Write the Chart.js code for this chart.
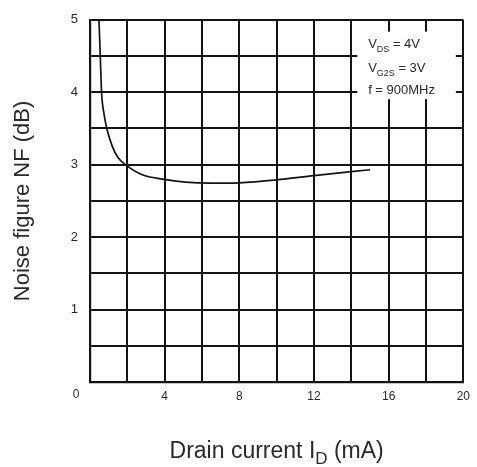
<!DOCTYPE html>
<html><head><meta charset="utf-8">
<script src="https://cdn.jsdelivr.net/npm/chart.js@4"></script>
<style>html,body{margin:0;padding:0;background:#fff}#wrap{width:477px;height:467px}</style>
</head><body><div id="wrap"><canvas id="c" width="477" height="467"></canvas></div>
<script>
// Data
const drainCurrentMA = [0.48, 0.55, 0.62, 0.75, 0.9, 1.2, 1.5, 1.9, 2.8, 3.9, 5.1, 6.5, 8.0, 10.0, 12.0, 15.0];
const noiseFigureDB  = [5.0, 4.5, 4.0, 3.7, 3.5, 3.25, 3.1, 3.0, 2.86, 2.8, 2.76, 2.745, 2.75, 2.79, 2.85, 2.93];
const xTickLabels = [4, 8, 12, 16, 20];
const yTickLabels = [1, 2, 3, 4, 5];
const cornerLabel = '0';
const conditionLines = [['V', 'DS', ' = 4V'], ['V', 'G2S', ' = 3V'], ['f = 900MHz', '', '']];
const xTitleParts = ['Drain current I', 'D', ' (mA)'];
const yTitleText = 'Noise figure NF (dB)';

const INK = '#141414';
const TEXT = '#2a2a2a';
const FONT = '"Liberation Sans", Arial, sans-serif';

function drawSubText(ctx, parts, x, y, size, align) {
  const subSize = Math.round(size * 0.72);
  ctx.font = size + 'px ' + FONT;
  const w0 = ctx.measureText(parts[0]).width;
  const w2 = ctx.measureText(parts[2]).width;
  ctx.font = subSize + 'px ' + FONT;
  const w1 = ctx.measureText(parts[1]).width;
  let sx = align === 'center' ? x - (w0 + w1 + w2) / 2 : x;
  ctx.textAlign = 'left';
  ctx.textBaseline = 'alphabetic';
  ctx.font = size + 'px ' + FONT;
  ctx.fillText(parts[0], sx, y);
  ctx.font = subSize + 'px ' + FONT;
  ctx.fillText(parts[1], sx + w0, y + size * 0.28);
  ctx.font = size + 'px ' + FONT;
  ctx.fillText(parts[2], sx + w0 + w1, y);
}

const decorPlugin = {
  id: 'decor',
  beforeDatasetsDraw(chart) {
    const {ctx, scales: {x, y}} = chart;
    // white box behind the operating-condition note
    const l = x.getPixelForValue(14.32), r = x.getPixelForValue(19.6);
    const t = y.getPixelForValue(4.836), b = y.getPixelForValue(3.904);
    ctx.save();
    ctx.fillStyle = '#fff';
    ctx.fillRect(l, t, r - l, b - t);
    ctx.fillStyle = TEXT;
    const tx = x.getPixelForValue(14.9);
    const rows = [4.68, 4.35, 4.05];
    conditionLines.forEach((parts, i) => {
      drawSubText(ctx, parts, tx, y.getPixelForValue(rows[i]) + 5, 13, 'left');
    });
    ctx.restore();
  },
  afterDraw(chart) {
    const {ctx, chartArea} = chart;
    ctx.save();
    ctx.fillStyle = TEXT;
    // corner zero
    ctx.font = '12px ' + FONT;
    ctx.textAlign = 'center';
    ctx.textBaseline = 'middle';
    ctx.fillText(cornerLabel, chartArea.left - 14, chartArea.bottom + 13);
    // x axis title with subscript
    drawSubText(ctx, xTitleParts, (chartArea.left + chartArea.right) / 2, 458, 23, 'center');
    ctx.restore();
  }
};

new Chart(document.getElementById('c'), {
  type: 'line',
  data: {
    datasets: [{
      data: drainCurrentMA.map((v, i) => ({x: v, y: noiseFigureDB[i]})),
      borderColor: INK,
      borderWidth: 1.7,
      pointRadius: 0,
      fill: false,
      cubicInterpolationMode: 'monotone'
    }]
  },
  options: {
    responsive: false,
    animation: false,
    events: [],
    layout: {padding: {left: 0, right: 12, top: 17, bottom: 0}},
    plugins: {legend: {display: false}, tooltip: {enabled: false}},
    scales: {
      x: {
        type: 'linear', min: 0, max: 20,
        afterFit(s) { s.height = 85; },
        border: {color: INK, width: 2.2},
        grid: {color: INK, lineWidth: 2, drawTicks: false},
        ticks: {
          stepSize: 2, padding: 7, color: TEXT, maxRotation: 0, autoSkip: false,
          font: {family: FONT, size: 12},
          callback: v => xTickLabels.includes(v) ? String(v) : ''
        }
      },
      y: {
        min: 0, max: 5,
        afterFit(s) { s.width = 90; },
        border: {color: INK, width: 2.2},
        grid: {color: INK, lineWidth: 2, drawTicks: false},
        ticks: {
          stepSize: 0.5, padding: 12, color: TEXT, autoSkip: false,
          font: {family: FONT, size: 13},
          callback: v => yTickLabels.includes(v) ? String(v) : ''
        },
        title: {
          display: true, text: yTitleText, color: TEXT,
          font: {family: FONT, size: 22}, padding: {top: 10, bottom: 0}
        }
      }
    }
  },
  plugins: [decorPlugin]
});
</script>
</body></html>
